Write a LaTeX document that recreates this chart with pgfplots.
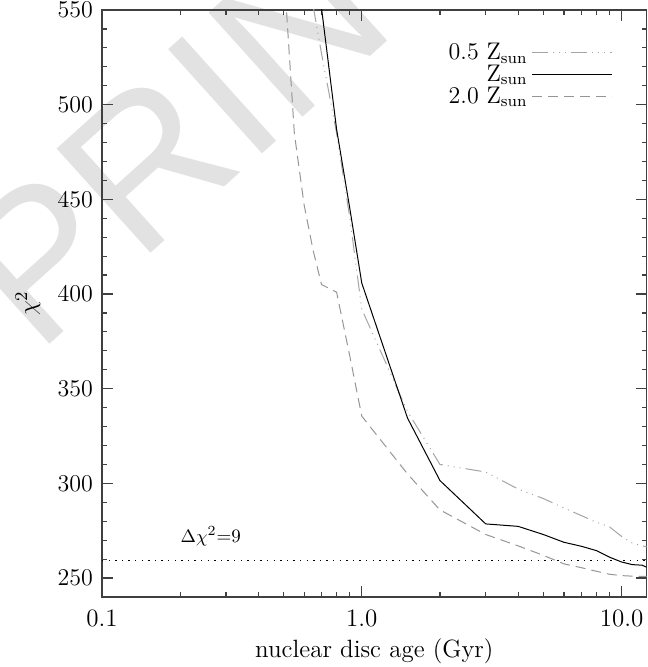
\documentclass[border=0pt]{standalone}
\usepackage{fontspec}
\usepackage{pgfplots}
\pgfplotsset{compat=1.18}
\newfontfamily\wmfont{Liberation Sans}
\definecolor{halfsun}{RGB}{165,165,165}
\definecolor{twosun}{RGB}{150,150,150}
\definecolor{wmark}{RGB}{226,226,226}

\begin{document}
\begin{tikzpicture}
\path[use as bounding box] (-51pt,-35pt) rectangle (272.9pt,298.5pt);
% watermark behind the plot
\node[rotate=42, text=wmark, inner sep=0pt, font=\fontsize{102}{102}\selectfont\wmfont]
  at (58pt,249pt) {PRINT};
\begin{axis}[
  scale only axis,
  width=272.35pt, height=293.5pt,
  xmode=log,
  xmin=0.1, xmax=12.5,
  ymin=240, ymax=550,
  xtick={0.1,1,10},
  xticklabels={0.1,1.0,10.0},
  minor xtick={0.2,0.3,0.4,0.5,0.6,0.7,0.8,0.9,2,3,4,5,6,7,8,9},
  ytick={250,300,350,400,450,500,550},
  minor y tick num=4,
  tick align=inside,
  major tick length=5.3pt,
  minor tick length=2.6pt,
  axis line style={line width=0.6pt, black!75},
  every tick/.style={line width=0.6pt, black!75},
  tick label style={font=\fontsize{12.5}{14}\selectfont},
  xticklabel style={yshift=-3pt},
  yticklabel style={xshift=-1pt},
  every axis x label/.style={at={(axis description cs:0.5,0)}, anchor=center, yshift=-27pt},
  every axis y label/.style={at={(axis description cs:-0.136,0.5)}, anchor=center, rotate=90},
  label style={font=\fontsize{12.5}{14}\selectfont},
  xlabel={nuclear disc age (Gyr)},
  ylabel={$\chi^2$},
  legend plot pos=right,
  legend cell align=right,
  legend image code/.code={\draw[#1] (0pt,0pt) -- (40pt,0pt);},
  legend style={at={(axis description cs:0.938,0.951)}, anchor=north east,
    draw=none, fill=none, inner sep=0pt, row sep=-2.8pt,
    font=\fontsize{12}{13}\selectfont},
]
\addplot[halfsun, line width=0.5pt,
  dash pattern=on 8pt off 2.5pt on 0.5pt off 2.5pt on 0.5pt off 2.5pt on 0.5pt off 2.5pt]
  coordinates {
  (0.65,552) (0.7,527) (0.8,485) (0.9,440) (1.0,392) (1.5,338) (2,310)
  (3,306) (4,297) (5,292) (6,287) (7,283) (8,279.5) (9,277) (10,272)
  (11,268.5) (12,267) (12.5,266.5)
};
\addlegendentry{0.5 Z$_{\rm sun}$}
\addplot[black, line width=0.5pt] coordinates {
  (0.7,551) (0.8,487) (0.9,445) (1.0,405.8) (1.5,334.5) (2,301.5)
  (3,278.6) (4,277.3) (5,273) (6,268.9) (7,266.8) (8,264.5) (9,261)
  (10,258.5) (11,257.1) (12,256.8) (12.5,255.7)
};
\addlegendentry{Z$_{\rm sun}$}
\addplot[twosun, line width=0.5pt, dash pattern=on 5pt off 3pt] coordinates {
  (0.5,574) (0.55,485) (0.6,447) (0.65,423) (0.7,405) (0.8,401) (0.9,367)
  (1.0,335.5) (1.5,305) (2,286) (3,273) (4,267) (5,262) (6,257.5)
  (7,255.5) (8,253.6) (9,252) (10,251.3) (11,251) (12.5,250.9)
};
\addlegendentry{2.0 Z$_{\rm sun}$}
\addplot[black, line width=0.5pt, dash pattern=on 0.7pt off 2.6pt, forget plot]
  coordinates {(0.1,259.2) (12.5,259.2)};
\node[anchor=base west, font=\fontsize{9.5}{11}\selectfont, inner sep=0pt]
  at (axis cs:0.2,268.7) {$\Delta\chi^2$=9};
\end{axis}
\end{tikzpicture}
\end{document}
